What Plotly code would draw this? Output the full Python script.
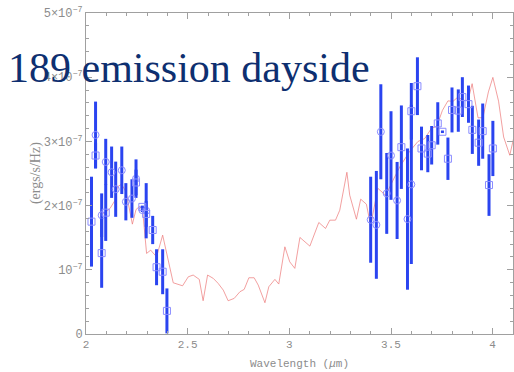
import plotly.graph_objects as go

# Flux values are in units of 1e-7 erg/s/Hz
# Model spectrum (thin red line)
model_wl = [2.082, 2.098, 2.118, 2.143, 2.154, 2.175, 2.197, 2.228, 2.246, 2.265, 2.279,
            2.298, 2.318, 2.347, 2.377, 2.429, 2.475, 2.503, 2.527, 2.557, 2.576, 2.598,
            2.626, 2.650, 2.675, 2.699, 2.729, 2.757, 2.778, 2.801, 2.827, 2.847, 2.880,
            2.899, 2.929, 2.948, 2.978, 3.002, 3.027, 3.052, 3.101, 3.145, 3.178, 3.199,
            3.227, 3.248, 3.283, 3.297, 3.330, 3.351, 3.379, 3.400, 3.435, 3.474, 3.510,
            3.543, 3.592, 3.633, 3.666, 3.699, 3.725, 3.753, 3.780, 3.805, 3.829, 3.854,
            3.879, 3.899, 3.928, 3.952, 3.979, 4.001, 4.029, 4.054, 4.084, 4.103]
model_f = [1.877, 1.902, 1.955, 2.084, 2.291, 2.333, 2.213, 1.711, 1.939, 1.991, 1.913,
           1.255, 1.306, 1.202, 1.540, 0.798, 0.751, 0.891, 0.918, 0.851, 0.518, 0.918,
           0.866, 0.788, 0.684, 0.518, 0.555, 0.658, 0.695, 0.876, 0.876, 0.762, 0.487,
           0.736, 0.851, 0.778, 1.358, 1.124, 1.022, 1.504, 1.369, 1.737, 1.644, 1.773,
           1.773, 1.928, 2.519, 2.162, 1.788, 2.100, 2.022, 1.684, 2.270, 2.160, 2.395,
           2.602, 2.846, 3.000, 3.044, 3.204, 3.235, 3.484, 3.631, 3.624, 3.691, 3.639,
           3.639, 3.899, 3.367, 3.370, 3.771, 3.997, 3.627, 3.068, 2.784, 3.048]

# Measurements, circle symbols
circ_wl = [2.047, 2.077, 2.097, 2.126, 2.146, 2.176, 2.196, 2.226, 2.246, 2.277, 2.296,
           3.400, 3.428, 3.450, 3.479, 3.500, 3.530, 3.581, 3.600]
circ_f = [3.10, 1.85, 2.68, 2.52, 2.255, 2.55, 2.06, 2.11, 2.42, 1.93, 1.92,
          1.78, 1.70, 3.15, 2.19, 2.78, 2.08, 1.79, 2.33]
circ_err = [0.52, 0.34, 0.36, 0.40, 0.43, 0.37, 0.29, 0.30, 0.30, 0.03, 0.43,
            0.67, 0.84, 0.74, 0.63, 0.69, 0.60, 1.10, 1.24]

# Measurements, square symbols
sq_wl = [2.027, 2.047, 2.077, 2.097, 2.246, 2.277, 2.296, 2.328, 2.347, 2.377, 2.398,
         3.551, 3.600, 3.630, 3.650, 3.681, 3.700, 3.730, 3.753, 3.780, 3.800, 3.831,
         3.851, 3.881, 3.900, 3.931, 3.951, 3.982, 4.001]
sq_f = [1.75, 2.78, 1.26, 1.89, 2.36, 1.98, 1.87, 1.62, 1.04, 0.97, 0.36,
        2.91, 3.47, 3.86, 2.89, 2.81, 2.94, 3.28, 3.15, 2.73, 3.49, 3.48,
        3.69, 3.58, 3.18, 2.98, 3.16, 2.32, 2.89]
sq_err = [0.70, 0.20, 0.54, 0.44, 0.20, 0.02, 0.20, 0.22, 0.28, 0.35, 0.35,
          0.65, 0.44, 0.45, 0.34, 0.29, 0.30, 0.33, 0.02, 0.33, 0.35, 0.33,
          0.31, 0.29, 0.375, 0.36, 0.43, 0.48, 0.43]

y_tickvals = [0, 1, 2, 3, 4, 5]
y_ticktext = ["0", "10<sup>−7</sup>", "2×10<sup>−7</sup>", "3×10<sup>−7</sup>",
              "4×10<sup>−7</sup>", "5×10<sup>−7</sup>"]
x_tickvals = [2, 2.5, 3, 3.5, 4]
x_ticktext = ["2", "2.5", "3", "3.5", "4"]

BAR_BLUE = "#2a44f0"
MARK_BLUE = "#8a8cff"
GRAY = "#8c8c8c"
MONO = "Liberation Mono, DejaVu Sans Mono, monospace"

fig = go.Figure()

fig.add_trace(go.Scatter(
    x=model_wl, y=model_f, mode="lines",
    line=dict(color="rgba(236,120,120,0.7)", width=1),
    hoverinfo="skip", showlegend=False,
))

for wl, f, err, sym in [(circ_wl, circ_f, circ_err, "circle-open"),
                        (sq_wl, sq_f, sq_err, "square-open")]:
    fig.add_trace(go.Scatter(
        x=wl, y=f, mode="markers",
        marker=dict(symbol=sym, size=7, color=MARK_BLUE, line=dict(width=1, color=MARK_BLUE)),
        error_y=dict(type="data", array=err, visible=True, color=BAR_BLUE,
                     thickness=3, width=0),
        showlegend=False,
    ))

axis_common = dict(
    showgrid=False, zeroline=False, showline=True, linecolor="#a0a0a0", linewidth=1,
    mirror="ticks", ticks="inside", ticklen=6, tickcolor="#a0a0a0", tickwidth=1,
)

fig.update_xaxes(
    range=[2, 4.1], tickvals=x_tickvals, ticktext=x_ticktext,
    tickfont=dict(family=MONO, size=11, color=GRAY),
    minor=dict(dtick=0.1, tick0=2, ticks="inside", ticklen=3, tickcolor="#a0a0a0"),
    title=dict(text="Wavelength (<i>μ</i>m)", font=dict(family=MONO, size=11, color=GRAY),
               standoff=9),
    **axis_common,
)
fig.update_yaxes(
    range=[0, 5], tickvals=y_tickvals, ticktext=y_ticktext,
    tickfont=dict(family=MONO, size=12, color=GRAY),
    minor=dict(dtick=0.2, tick0=0, ticks="inside", ticklen=3, tickcolor="#a0a0a0"),
    **axis_common,
)

fig.add_annotation(
    text="(ergs/s/Hz)", textangle=-90, showarrow=False,
    xref="paper", yref="paper", x=-0.118, y=0.5, xanchor="center", yanchor="middle",
    font=dict(family="Liberation Serif, serif", size=14, color=GRAY),
)

fig.add_annotation(
    text="189 emission dayside", showarrow=False,
    xref="paper", yref="paper", x=-0.187, y=0.829, xanchor="left", yanchor="middle",
    font=dict(family="Liberation Serif, Times New Roman, serif", size=42, color="#0e2f70"),
)

fig.update_layout(
    width=514, height=372,
    margin=dict(l=86, r=1, t=13, b=38),
    paper_bgcolor="white", plot_bgcolor="white",
)

fig.write_html("out.html")
